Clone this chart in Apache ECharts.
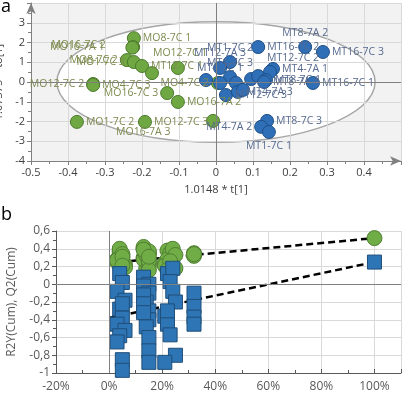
<!DOCTYPE html>
<html>
<head>
<meta charset="utf-8">
<script src="https://cdn.jsdelivr.net/npm/echarts@6/dist/echarts.min.js"></script>
<style>
  html, body { margin: 0; padding: 0; background: #fff; }
  #main { width: 407px; height: 397px; }
</style>
</head>
<body>
<div id="main"></div>
<script>
// panel a: score plot, MO group (green) and MT group (blue)
const moNames = ['MO8-7C 1', 'MO16-7A 1', 'MO16-7C 2', 'MO8-7C 2', 'MO1-7C 3', 'MT12-7C 1', 'MO12-7C 1', 'MO4-7C 1',
  'MO12-7C 2', 'MO4-7C 3', 'MO16-7C 3', 'MO16-7A 2', 'MO1-7C 2', 'MO12-7C 3', 'MO16-7A 3', 'MO4-7C 2'];
const moT = [-0.222, -0.224, -0.226, -0.241, -0.222, -0.2, -0.173, -0.103,
  -0.332, -0.332, -0.132, -0.103, -0.376, -0.192, -0.008, 0.005];
const moTo = [2.22, 1.77, 1.74, 1.11, 1.01, 0.81, 0.45, 0.71,
  -0.1, -0.15, -0.56, -1.01, -2.02, -2.02, -1.97, -0.05];
const moLabelPos = ['right', [-76, 1], [-74, -1], 'left', 'left', 'right', [8, -19], null,
  'left', 'right', 'left', 'right', 'right', 'right', [-90, 13], 'left'];

const mtNames = ['MT16-7C 2', 'MT8-7A 2', 'MT16-7C 3', 'MT1-7C 2', 'MT12-7A 3', 'MT4-7A 1', 'MT12-7C 2', 'MT12-7A 1',
  'MT1-7C 3', 'MT4-7C 2', 'MT4-7C 1', 'MT8-7A 1', 'MT12-7A 2', 'MT8-7C 1', 'MT8-7A 1', 'MT16-7C 1',
  'MT12-7C 3', 'MT4-7A 3', 'MT8-7A 3', 'MT8-7C 3', 'MT4-7A 2', 'MT1-7C 1'];
const mtT = [0.114, 0.241, 0.289, 0.038, 0.011, 0.154, 0.146, -0.027,
  0.038, 0.054, 0.011, 0.095, 0.114, 0.135, 0.13, 0.262,
  0.027, 0.059, 0.073, 0.138, 0.122, 0.143];
const mtTo = [1.77, 1.77, 1.52, 1.01, 0.71, 0.66, 0.51, 0.1,
  0.25, -0.05, -0.05, 0.15, 0.3, 0.1, 0.0, -0.05,
  -0.66, -0.5, -0.4, -1.97, -2.27, -2.53];
const mtLabelPos = ['right', 'top', 'right', 'top', 'top', 'right', [4, -12], null,
  'top', null, 'top', null, null, 'right', 'right', 'right',
  'right', 'right', null, 'right', 'left', 'bottom'];

// Hotelling T2 ellipse (centre and semi-axes in t[1] / to[1] units)
const ellipseCenter = [0, 0];
const ellipseRadii = [0.43, 3.05];

// panel b: permutation test
const permCorr = [4, 5, 3, 6, 4, 5, 3, 6, 4, 5, 3, 5, 5,
  13, 15, 13, 15, 14, 13, 15, 13, 15, 14, 15, 13, 15, 15,
  22, 24, 21, 25, 23, 22, 24, 21, 25, 23, 22,
  32, 32, 32, 32,
  100];
const permR2 = [0.38, 0.33, 0.28, 0.22, 0.36, 0.30, 0.25, 0.19, 0.40, 0.34, 0.27, 0.31, 0.21,
  0.40, 0.35, 0.30, 0.24, 0.18, 0.42, 0.37, 0.28, 0.21, 0.33, 0.26, 0.39, 0.16, 0.31,
  0.38, 0.31, 0.24, 0.18, 0.35, 0.28, 0.40, 0.21, 0.33, 0.26, 0.16,
  0.33, 0.35, 0.32, 0.34,
  0.52];
const permQ2 = [0.12, 0.02, -0.08, -0.18, -0.28, -0.38, -0.45, -0.52, -0.58, -0.22, -0.65, -0.85, -0.97,
  0.08, 0.0, -0.02, -0.1, -0.2, -0.12, -0.3, -0.22, -0.4, -0.48, -0.6, -0.32, -0.75, -0.88,
  0.12, 0.18, -0.36, -0.8, 0.03, -0.45, -0.08, -0.88, -0.2, -0.57, -0.3,
  -0.1, -0.25, -0.37, -0.45,
  0.25];
const fitX = [0, 100];
const r2Fit = [0.24, 0.52];
const q2Fit = [-0.38, 0.25];

const FONT = 'Open Sans';
const chart = echarts.init(document.getElementById('main'), null, { renderer: 'canvas' });

function pts(xs, ys, names, pos) {
  return xs.map((x, i) => {
    const p = pos[i];
    return {
      name: names[i],
      value: [x, ys[i]],
      label: p ? { show: true, position: p } : { show: false }
    };
  });
}

const commaFmt = v => String(+(+v).toFixed(1)).replace('.', ',');

const option = {
  animation: false,
  textStyle: { fontFamily: FONT },
  graphic: [
    { type: 'text', left: 1, top: -2, style: { text: 'a', fontSize: 18, fontFamily: FONT, fill: '#000' } },
    { type: 'text', left: 1, top: 206, style: { text: 'b', fontSize: 18, fontFamily: FONT, fill: '#000' } }
  ],
  grid: [
    { left: 31, top: 3, width: 370, height: 158, show: true, backgroundColor: '#f2f2f2', borderWidth: 0,
      containLabel: false, outerBoundsMode: 'none' },
    { left: 56, top: 231, width: 345, height: 142, containLabel: false, outerBoundsMode: 'none' }
  ],
  xAxis: [{
    gridIndex: 0, type: 'value', min: -0.5, max: 0.5, interval: 0.1,
    name: '1.0148 * t[1]', nameLocation: 'middle', nameGap: 23,
    nameTextStyle: { fontSize: 11, color: '#404040', fontFamily: FONT },
    axisLine: { onZero: false, symbol: ['none', 'arrow'], symbolSize: [7, 11], lineStyle: { color: '#808080' } },
    axisTick: { length: 4, lineStyle: { color: '#808080' } },
    minorTick: { show: true, splitNumber: 2, length: 3, lineStyle: { color: '#808080' } },
    axisLabel: { fontSize: 11, color: '#404040', showMaxLabel: false, margin: 6 },
    splitLine: { lineStyle: { color: '#d9d9d9' } }
  }, {
    gridIndex: 1, type: 'value', min: -20, max: 110, interval: 20,
    axisLine: { onZero: false, lineStyle: { color: '#595959' } },
    axisTick: { inside: true, length: 4, lineStyle: { color: '#595959' } },
    minorTick: { show: true, splitNumber: 2, length: 3, lineStyle: { color: '#595959' } },
    axisLabel: { fontSize: 12, color: '#595959', formatter: '{value}%', showMaxLabel: false, margin: 8 },
    splitLine: { lineStyle: { color: '#d9d9d9' } }
  }],
  yAxis: [{
    gridIndex: 0, type: 'value', min: -4, max: 4, interval: 1,
    name: '1.07375 * to[1]', nameLocation: 'middle', nameGap: 16,
    nameTextStyle: { fontSize: 11, color: '#404040', fontFamily: FONT },
    axisLine: { show: true, onZero: false, symbol: ['none', 'arrow'], symbolSize: [7, 11], lineStyle: { color: '#808080' } },
    axisTick: { show: true, length: 4, lineStyle: { color: '#808080' } },
    minorTick: { show: true, splitNumber: 2, length: 3, lineStyle: { color: '#808080' } },
    axisLabel: { fontSize: 11, color: '#404040', showMaxLabel: false, margin: 6 },
    splitLine: { lineStyle: { color: '#d9d9d9' } }
  }, {
    gridIndex: 1, type: 'value', min: -1, max: 0.6, interval: 0.2,
    name: 'R2Y(Cum), Q2(Cum)', nameLocation: 'middle', nameGap: 38,
    nameTextStyle: { fontSize: 12, color: '#595959', fontFamily: FONT },
    axisLine: { show: true, onZero: false, lineStyle: { color: '#595959' } },
    axisTick: { show: true, length: 4, lineStyle: { color: '#595959' } },
    minorTick: { show: true, splitNumber: 2, length: 3, lineStyle: { color: '#595959' } },
    axisLabel: { fontSize: 12, color: '#595959', formatter: commaFmt, margin: 6 },
    splitLine: { lineStyle: { color: '#d9d9d9' } }
  }],
  series: [
    {
      type: 'custom', xAxisIndex: 0, yAxisIndex: 0, z: 0, silent: true,
      data: [[ellipseCenter[0], ellipseCenter[1], ellipseRadii[0], ellipseRadii[1]]],
      renderItem: (params, api) => {
        const c = api.coord([api.value(0), api.value(1)]);
        const s = api.size([api.value(2), api.value(3)]);
        return {
          type: 'ellipse', z2: -0.5,
          shape: { cx: c[0], cy: c[1], rx: s[0], ry: s[1] },
          style: { fill: '#ffffff', stroke: '#a6a6a6', lineWidth: 1.5 }
        };
      }
    },
    {
      type: 'scatter', xAxisIndex: 0, yAxisIndex: 0,
      symbolSize: 13,
      itemStyle: { color: '#6fa843', borderColor: '#4c7a2c', borderWidth: 1, opacity: 1 },
      label: { formatter: '{b}', fontSize: 10.5, color: '#7d8a4e', fontFamily: FONT, distance: 2 },
      data: pts(moT, moTo, moNames, moLabelPos),
      markLine: {
        silent: true, symbol: 'none', label: { show: false },
        lineStyle: { color: '#7f7f7f', width: 1, type: 'solid' },
        data: [{ xAxis: 0 }, { yAxis: 0 }]
      }
    },
    {
      type: 'scatter', xAxisIndex: 0, yAxisIndex: 0,
      symbolSize: 13,
      itemStyle: { color: '#2f6fb7', borderColor: '#1f4f86', borderWidth: 1, opacity: 1 },
      label: { formatter: '{b}', fontSize: 10.5, color: '#56698f', fontFamily: FONT, distance: 2 },
      data: pts(mtT, mtTo, mtNames, mtLabelPos)
    },
    {
      type: 'line', xAxisIndex: 1, yAxisIndex: 1, symbol: 'none', z: 1, silent: true,
      lineStyle: { color: '#000', width: 2.5, type: [7, 4] },
      data: fitX.map((x, i) => [x, r2Fit[i]]),
      markLine: {
        silent: true, symbol: 'none', label: { show: false },
        lineStyle: { color: '#808080', width: 1, type: 'solid' },
        data: [{ xAxis: 0 }, { yAxis: 0 }]
      }
    },
    {
      type: 'line', xAxisIndex: 1, yAxisIndex: 1, symbol: 'none', z: 1, silent: true,
      lineStyle: { color: '#000', width: 2.5, type: [7, 4] },
      data: fitX.map((x, i) => [x, q2Fit[i]])
    },
    {
      type: 'scatter', xAxisIndex: 1, yAxisIndex: 1, symbol: 'circle', symbolSize: 15,
      itemStyle: { color: '#70ad47', borderColor: '#507e32', borderWidth: 1, opacity: 1 },
      data: permCorr.map((x, i) => [x, permR2[i]])
    },
    {
      type: 'scatter', xAxisIndex: 1, yAxisIndex: 1, symbol: 'rect', symbolSize: 14,
      itemStyle: { color: '#2e75b6', borderColor: '#1f4e79', borderWidth: 1, opacity: 1 },
      data: permCorr.map((x, i) => [x, permQ2[i]])
    }
  ]
};
chart.setOption(option);
</script>
</body>
</html>
